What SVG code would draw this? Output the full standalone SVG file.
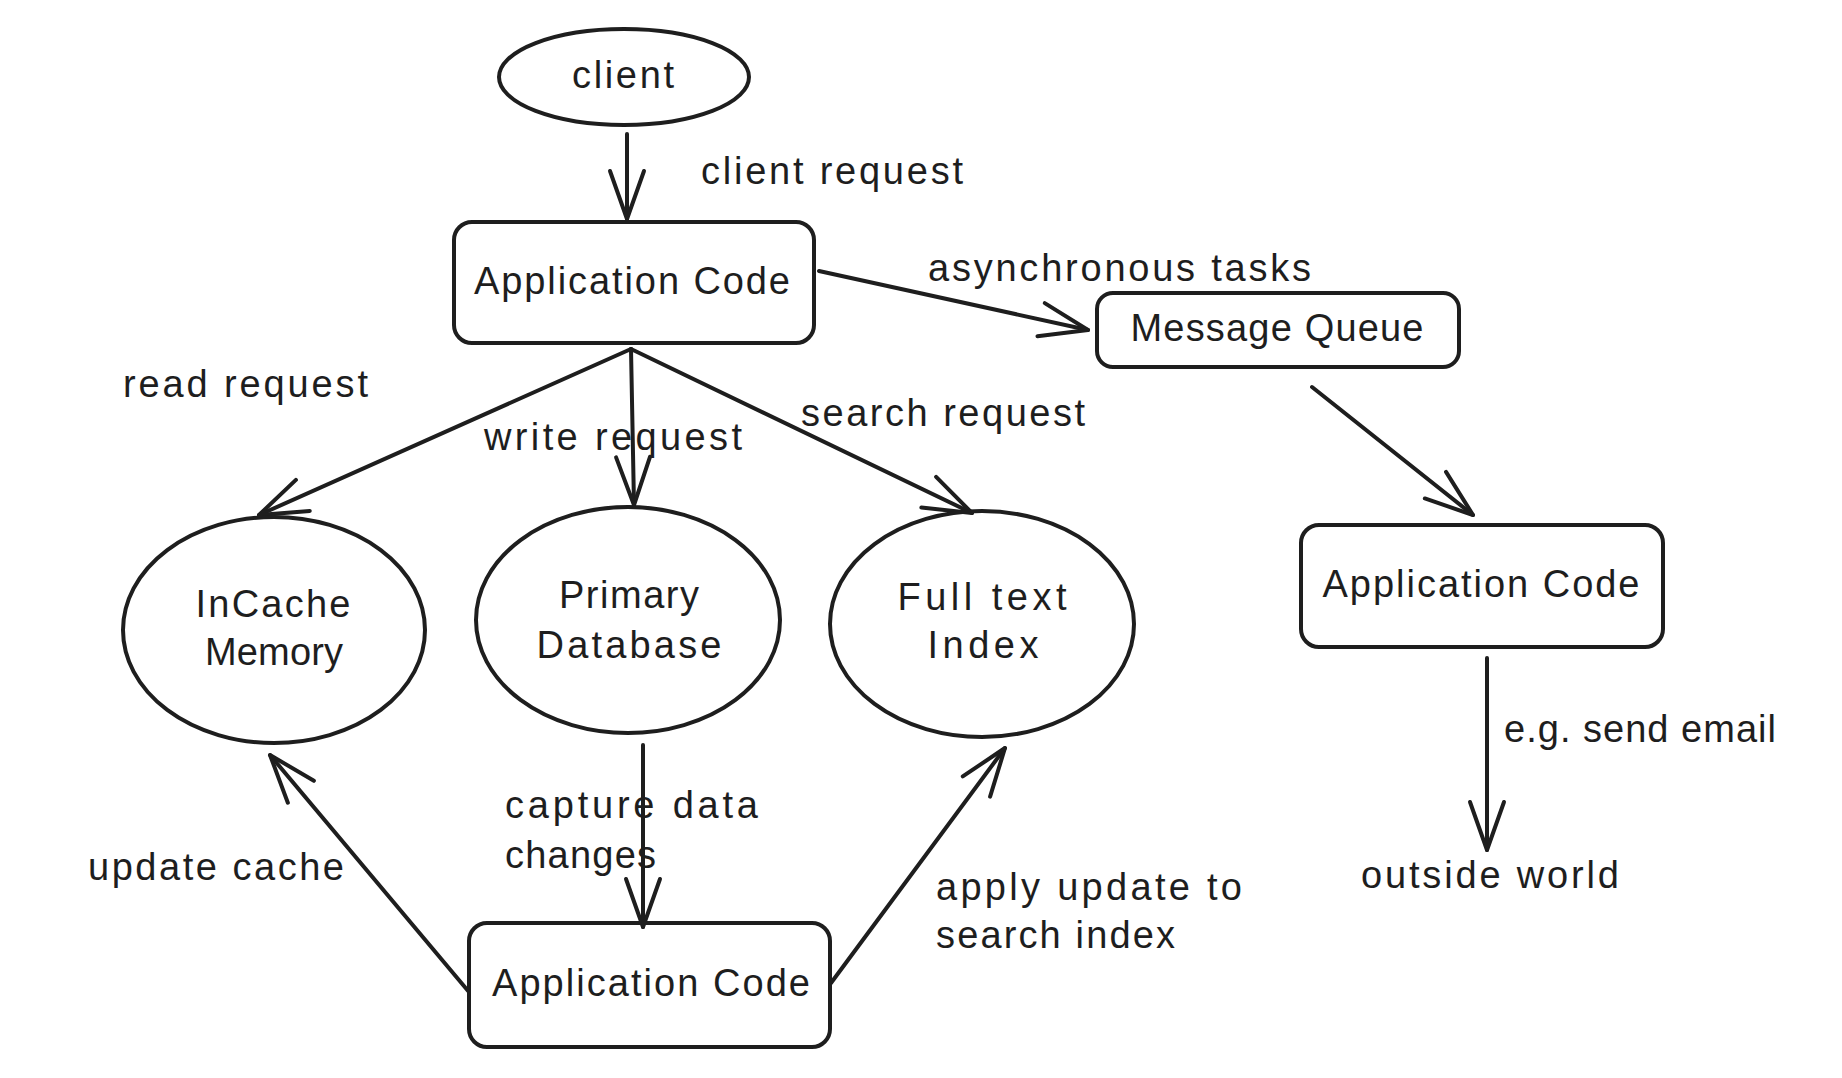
<svg xmlns="http://www.w3.org/2000/svg" width="1842" height="1078" viewBox="0 0 1842 1078">
<style>
.shape{fill:none;stroke:#1e1e1e;stroke-width:4;stroke-linecap:round;stroke-linejoin:round}
.conn{fill:none;stroke:#1e1e1e;stroke-width:4;stroke-linecap:round;marker-end:url(#arrow)}
text{font-family:"Liberation Sans","DejaVu Sans",sans-serif;font-size:38px;fill:#1e1e1e}
.c{text-anchor:middle}
</style>
<defs>
<marker id="arrow" markerUnits="userSpaceOnUse" viewBox="-60 -30 70 60" refX="0" refY="0" markerWidth="70" markerHeight="60" orient="auto" overflow="visible">
<path d="M -48 -17 L 0 0 L -48 17" fill="none" stroke="#1e1e1e" stroke-width="4" stroke-linecap="round" stroke-linejoin="round"/>
</marker>
</defs>
<rect width="1842" height="1078" fill="#ffffff"/>

<g id="connectors">
<line class="conn" x1="627" y1="134" x2="627" y2="219"/>
<line class="conn" x1="819" y1="271" x2="1088" y2="330"/>
<line class="conn" x1="1312" y1="387" x2="1473" y2="515"/>
<line class="conn" x1="1487" y1="658" x2="1487" y2="850"/>
<line class="conn" x1="631" y1="349" x2="259" y2="515"/>
<line class="conn" x1="631" y1="349" x2="634" y2="505"/>
<line class="conn" x1="631" y1="349" x2="972" y2="513"/>
<line class="conn" x1="643" y1="745" x2="643" y2="927"/>
<line class="conn" x1="469" y1="992" x2="270" y2="755"/>
<line class="conn" x1="831" y1="983" x2="1005" y2="748"/>
</g>

<g id="labels">
<text x="701" y="184" textLength="262">client request</text>
<text x="928" y="281" textLength="383">asynchronous tasks</text>
<text x="123" y="397" textLength="245">read request</text>
<text x="484" y="450" textLength="258">write request</text>
<text x="801" y="426" textLength="284">search request</text>
<text x="505" y="818" textLength="253">capture data</text>
<text x="505" y="868" textLength="151">changes</text>
<text x="88" y="880" textLength="256">update cache</text>
<text x="936" y="900" textLength="306">apply update to</text>
<text x="936" y="948" textLength="239">search index</text>
<text x="1504" y="742" textLength="272">e.g. send email</text>
<text x="1361" y="888" textLength="258">outside world</text>
</g>

<g id="client">
<ellipse class="shape" cx="624" cy="77" rx="125" ry="48"/>
<text class="c" x="623" y="88" textLength="102">client</text>
</g>

<g id="app-code-top">
<rect class="shape" x="454" y="222" width="360" height="121" rx="18"/>
<text class="c" x="632" y="294" textLength="316">Application Code</text>
</g>

<g id="message-queue">
<rect class="shape" x="1097" y="293" width="362" height="74" rx="16"/>
<text class="c" x="1277" y="341" textLength="293">Message Queue</text>
</g>

<g id="app-code-right">
<rect class="shape" x="1301" y="525" width="362" height="122" rx="18"/>
<text class="c" x="1481" y="597" textLength="317">Application Code</text>
</g>

<g id="incache-memory">
<ellipse class="shape" cx="274" cy="630" rx="151" ry="113"/>
<text class="c" x="273" y="617" textLength="155">InCache</text>
<text class="c" x="274" y="665" textLength="138">Memory</text>
</g>

<g id="primary-database">
<ellipse class="shape" cx="628" cy="620" rx="152" ry="113"/>
<text class="c" x="629" y="608" textLength="140">Primary</text>
<text class="c" x="629" y="658" textLength="185">Database</text>
</g>

<g id="full-text-index">
<ellipse class="shape" cx="982" cy="624" rx="152" ry="113"/>
<text class="c" x="982" y="610" textLength="169">Full text</text>
<text class="c" x="983" y="658" textLength="111">Index</text>
</g>

<g id="app-code-bottom">
<rect class="shape" x="469" y="923" width="361" height="124" rx="18"/>
<text class="c" x="651" y="996" textLength="318">Application Code</text>
</g>
</svg>
